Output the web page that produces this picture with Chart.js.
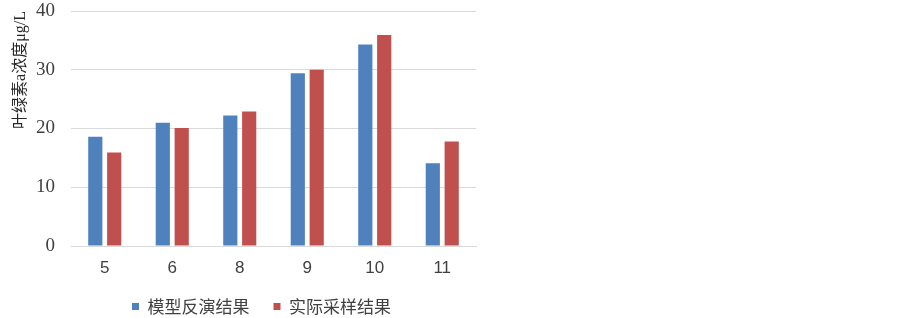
<!DOCTYPE html>
<html>
<head>
<meta charset="utf-8">
<script src="https://cdn.jsdelivr.net/npm/chart.js@4.4.1/dist/chart.umd.min.js"></script>
<style>
	body { margin: 0; background: #fff; }
	#box { width: 903px; height: 318px; position: relative; }
</style>
</head>
<body>
<div id="box"><canvas id="myChartBar"></canvas></div>
<script>
	// data
	var categories = ["5", "6", "8", "9", "10", "11"];
	var modelValues = [18.6, 21.0, 22.2, 29.4, 34.3, 14.1];
	var sampleValues = [15.9, 20.1, 22.9, 30.0, 35.9, 17.8];
	var seriesNames = ["模型反演结果", "实际采样结果"];
	var yTicks = [0, 10, 20, 30, 40];

	var gridColor = "#D9D9D9";

	// legend sits a little left of the plot centre in the original
	var legendShift = {
		id: "legendShift",
		afterLayout: function(chart) {
			var lg = chart.legend;
			lg.left -= 12;
			lg.right -= 12;
			lg.top -= 4;
			lg.bottom -= 4;
		}
	};

	var ctx = document.getElementById("myChartBar").getContext("2d");
	var myChartBar = new Chart(ctx, {
		type: "bar",
		data: {
			labels: categories,
			datasets: [{
				label: seriesNames[0],
				data: modelValues,
				backgroundColor: "#4F81BD"
			}, {
				label: seriesNames[1],
				data: sampleValues,
				backgroundColor: "#C0504D"
			}]
		},
		options: {
			responsive: true,
			maintainAspectRatio: false,
			animation: false,
			categoryPercentage: 0.56,
			barPercentage: 0.75,
			layout: { padding: { top: 0, right: 427, bottom: -11, left: 0 } },
			plugins: {
				tooltip: { enabled: false },
				legend: {
					position: "bottom",
					fullSize: false,
					labels: {
						boxWidth: 7,
						boxHeight: 7,
						padding: 24,
						color: "#404040",
						font: { family: "'Noto Sans CJK SC'", size: 17 }
					}
				}
			},
			scales: {
				x: {
					grid: { display: false, drawTicks: false },
					border: { display: true, color: gridColor, width: 1 },
					ticks: {
						padding: 12,
						color: "#404040",
						font: { family: "'Liberation Sans'", size: 17 }
					},
					afterFit: function(scale) { scale.height = 32; }
				},
				y: {
					min: 0,
					max: 40,
					afterBuildTicks: function(scale) {
						scale.ticks = yTicks.map(v => ({ value: v }));
					},
					grid: { color: gridColor, lineWidth: 1, drawTicks: false },
					border: { display: false },
					ticks: {
						padding: 16,
						color: "#404040",
						font: { family: "'Liberation Serif'", size: 19 }
					},
					title: {
						display: true,
						text: "叶绿素a浓度μg/L",
						align: "end",
						color: "#262626",
						padding: { top: 11, bottom: 0 },
						font: { family: "'Liberation Serif', 'Noto Sans CJK SC'", size: 16 }
					},
					afterFit: function(scale) {
						scale.width = 71;
						scale.paddingTop = 11;
					}
				}
			}
		},
		plugins: [legendShift]
	});
</script>
</body>
</html>
